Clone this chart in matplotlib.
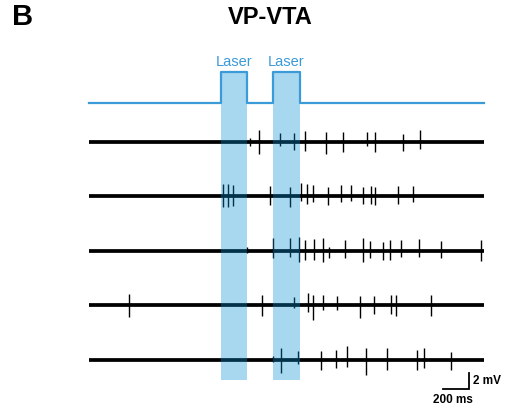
import numpy as np
import matplotlib
matplotlib.use("Agg")
import matplotlib.pyplot as plt

plt.rcParams['font.family'] = ['Liberation Sans', 'DejaVu Sans']

# --- data (ms / mV) ---
DURATION = 3000
laser_on = [1000, 1400]
laser_off = [1200, 1600]

# spike times (ms), upward and downward amplitude (mV), one list per trace (top -> bottom)
spk_t1 = [1222, 1293, 1450, 1559, 1643, 1800, 1929, 2111, 2169, 2382, 2513]
spk_up1 = [0.5, 1.46, 1.12, 1.12, 1.33, 1.21, 1.21, 1.29, 1.25, 1.04, 1.46]
spk_dn1 = [0.5, 1.46, 0.54, 0.96, 1.17, 1.46, 1.25, 0.54, 1.25, 1.17, 0.88]

spk_t2 = [1020, 1054, 1090, 1373, 1530, 1607, 1659, 1700, 1812, 1913, 1989, 2081, 2139, 2172, 2344, 2458]
spk_up2 = [1.5, 1.5, 1.4, 1.33, 1.12, 1.67, 1.54, 1.46, 1.12, 1.42, 1.46, 1.21, 1.33, 1.12, 1.33, 1.33]
spk_dn2 = [1.33, 1.33, 1.2, 1.08, 1.38, 0.54, 0.96, 0.75, 1.08, 0.75, 0.54, 0.96, 0.96, 1.08, 0.96, 0.75]

spk_t3 = [1197, 1397, 1530, 1597, 1640, 1708, 1774, 1825, 1944, 2078, 2134, 2235, 2285, 2367, 2506, 2673, 2979]
spk_up3 = [0.5, 1.54, 1.54, 1.75, 1.33, 1.46, 1.62, 0.5, 1.33, 1.54, 1.21, 1.04, 1.33, 1.33, 1.46, 1.21, 1.33]
spk_dn3 = [0.3, 0.96, 0.75, 1.38, 1.17, 1.17, 1.38, 0.96, 0.96, 1.38, 0.96, 1.17, 1.17, 0.75, 0.75, 0.96, 1.29]

spk_t4 = [307, 1314, 1559, 1665, 1703, 1774, 1880, 2062, 2164, 2290, 2331, 2600]
spk_up4 = [1.38, 1.25, 1.04, 1.46, 1.25, 1.25, 1.12, 1.17, 1.17, 1.25, 1.25, 1.25]
spk_dn4 = [1.46, 1.33, 0.42, 0.92, 1.88, 0.62, 0.62, 1.58, 1.17, 1.17, 1.33, 1.33]

spk_t5 = [1400, 1455, 1584, 1759, 1876, 1956, 2103, 2260, 2488, 2547, 2747]
spk_up5 = [0.5, 1.5, 1.08, 1.08, 1.25, 1.67, 1.38, 1.38, 1.17, 1.38, 0.96]
spk_dn5 = [0.3, 1.67, 0.5, 1.25, 1.0, 0.92, 1.96, 1.25, 1.33, 1.0, 1.25]

traces = [(spk_t1, spk_up1, spk_dn1), (spk_t2, spk_up2, spk_dn2), (spk_t3, spk_up3, spk_dn3),
          (spk_t4, spk_up4, spk_dn4), (spk_t5, spk_up5, spk_dn5)]

TRACE_GAP = 6.8      # mV between traces
LASER_BASE = 32.1    # laser trace baseline (plot units)
LASER_H = 3.9

# --- layout: map ms / mV to pixels ---
W, H = 509, 416
px_ms = 395 / DURATION
px_mv = 8.0
fig = plt.figure(figsize=(W / 100, H / 100), dpi=100)
ax = fig.add_axes([0, 0, 1, 1])
ax.set_xlim(-89 / px_ms, (W - 89) / px_ms)
ax.set_ylim((359.5 - H) / px_mv, 359.5 / px_mv)
ax.axis('off')

blue = '#3b9ad8'
shade = '#068fd4'

# --- traces ---
n = len(traces)
for i, (t, up, dn) in enumerate(traces):
    off = (n - 1 - i) * TRACE_GAP
    ax.plot([0, DURATION], [off, off], color='black', lw=2.7, solid_capstyle='butt', zorder=2)
    t = np.array(t)
    ax.vlines(t, off - np.array(dn), off + np.array(up), color='black', lw=1.0, zorder=2)

# --- laser shading + step trace ---
shade_bottom = -2.56
for a, b in zip(laser_on, laser_off):
    ax.fill_between([a, b], shade_bottom, LASER_BASE + LASER_H, color=shade, alpha=0.35,
                    lw=0, zorder=3)
    ax.text((a + b) / 2, LASER_BASE + LASER_H + 0.3, 'Laser', color=blue, fontsize=10.5,
            ha='center', va='bottom', zorder=5)

lx, ly = [0], [LASER_BASE]
for a, b in zip(laser_on, laser_off):
    lx += [a, a, b, b]
    ly += [LASER_BASE, LASER_BASE + LASER_H, LASER_BASE + LASER_H, LASER_BASE]
lx.append(DURATION)
ly.append(LASER_BASE)
ax.plot(lx, ly, color=blue, lw=1.6, zorder=4)

# --- scale bar ---
sb_x = 2885
sb_y = -3.69
ax.plot([sb_x - 200, sb_x, sb_x], [sb_y, sb_y, sb_y + 2], color='black', lw=1.3,
        solid_joinstyle='miter', zorder=4)
ax.text(sb_x + 35, sb_y + 1.0, '2 mV', fontsize=8.5, fontweight='bold', va='center', ha='left')
ax.text(sb_x - 120, sb_y - 0.6, '200 ms', fontsize=8.5, fontweight='bold', va='top', ha='center')

# --- titles ---
fig.text(270 / W, 1 - 17 / H, 'VP-VTA', fontsize=17, fontweight='bold', ha='center', va='center')
fig.text(23 / W, 1 - 17 / H, 'B', fontsize=21, fontweight='bold', ha='center', va='center')

fig.savefig('out.png', dpi=100)
